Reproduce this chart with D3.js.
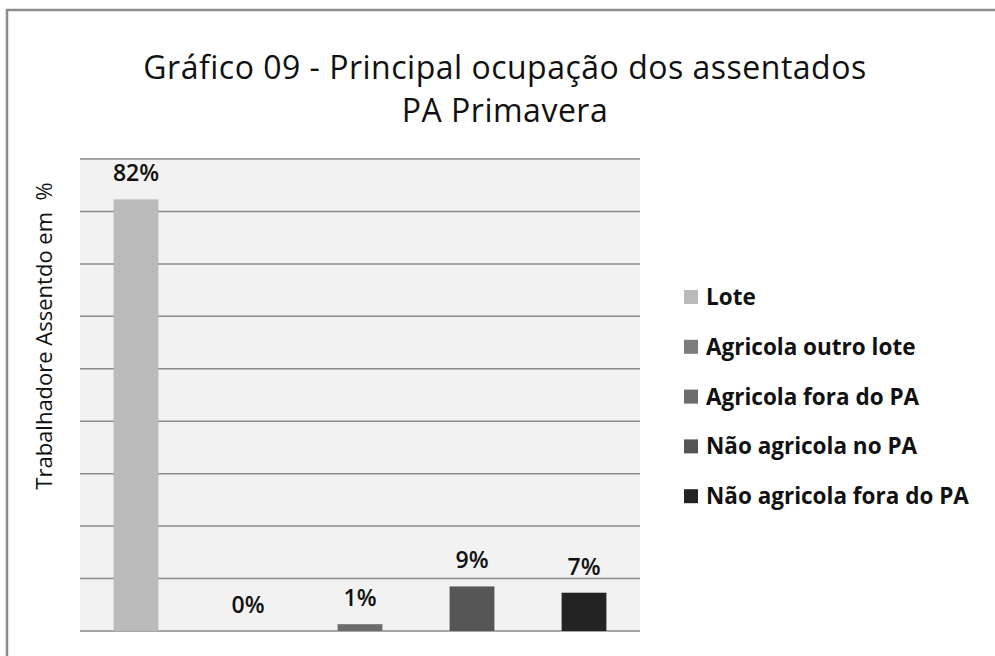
<!DOCTYPE html>
<meta charset="utf-8">
<head>
<style>
body { margin: 0; background: #fff; }
svg { display: block; font-family: "Open Sans", sans-serif; }
.grid line { stroke: #8a8a8a; stroke-width: 1.5px; }
.legend text { font-weight: 700; font-size: 22.5px; fill: #111; }
</style>
</head>
<body>
<svg></svg>
<script src="https://d3js.org/d3.v7.min.js"></script>
<script>
// data
var categories = ["Lote", "Agricola outro lote", "Agricola fora do PA", "Não agricola no PA", "Não agricola fora do PA"];
var values = [82.3, 0, 1.3, 8.5, 7.3];
var labels = ["82%", "0%", "1%", "9%", "7%"];
var colors = ["#bababa", "#7c7c7c", "#6c6c6c", "#555555", "#232323"];
var yTicks = [0, 10, 20, 30, 40, 50, 60, 70, 80, 90];

var width = 995, height = 656;
var plot = {left: 80, right: 640, top: 159, bottom: 631};

var svg = d3.select('svg')
  .attr('width', width)
  .attr('height', height);

// outer frame (runs past the picture on the right and bottom)
svg.append('rect')
  .attr('x', 7).attr('y', 10)
  .attr('width', 1100).attr('height', 800)
  .attr('fill', 'none')
  .attr('stroke', '#8c8c8c')
  .attr('stroke-width', 2.5);

var x = d3.scaleBand()
  .domain(categories)
  .range([plot.left, plot.right])
  .paddingInner(0.6)
  .paddingOuter(0.3);

var y = d3.scaleLinear()
  .domain([0, 90])
  .range([plot.bottom, plot.top]);

// plot background
svg.append('rect')
  .attr('x', plot.left).attr('y', plot.top)
  .attr('width', plot.right - plot.left)
  .attr('height', plot.bottom - plot.top)
  .attr('fill', '#f2f2f2');

svg.append('g')
  .attr('class', 'grid')
  .selectAll('line')
  .data(yTicks)
  .enter().append('line')
  .attr('x1', plot.left).attr('x2', plot.right)
  .attr('y1', function (d) { return y(d); })
  .attr('y2', function (d) { return y(d); });

svg.append('g')
  .selectAll('rect')
  .data(values)
  .enter().append('rect')
  .attr('x', function (d, i) { return x(categories[i]); })
  .attr('y', function (d) { return y(d); })
  .attr('width', x.bandwidth())
  .attr('height', function (d) { return y(0) - y(d); })
  .attr('fill', function (d, i) { return colors[i]; });

svg.append('g')
  .selectAll('text')
  .data(values)
  .enter().append('text')
  .attr('x', function (d, i) { return x(categories[i]) + x.bandwidth() / 2; })
  .attr('y', function (d) { return y(d) - 18; })
  .attr('text-anchor', 'middle')
  .attr('font-size', 23)
  .attr('font-weight', 600)
  .attr('fill', '#111')
  .text(function (d, i) { return labels[i]; });

// title, two lines
var titleLines = ['Gráfico 09 - Principal ocupação dos assentados', 'PA Primavera'];
svg.append('g')
  .selectAll('text')
  .data(titleLines)
  .enter().append('text')
  .attr('x', 505)
  .attr('y', function (d, i) { return 79 + i * 43; })
  .attr('text-anchor', 'middle')
  .attr('font-size', 32)
  .attr('font-weight', 500)
  .attr('letter-spacing', 0.5)
  .attr('fill', '#111')
  .text(function (d) { return d; });

// y axis title
svg.append('text')
  .attr('transform', 'translate(52,336) rotate(-90)')
  .attr('text-anchor', 'middle')
  .attr('font-size', 22)
  .attr('font-weight', 500)
  .attr('fill', '#111')
  .style('white-space', 'pre')
  .text('Trabalhadore Assentdo em  %');

// legend
var legend = svg.append('g')
  .attr('class', 'legend')
  .selectAll('g')
  .data(categories)
  .enter().append('g')
  .attr('transform', function (d, i) { return 'translate(684,' + (297 + i * 49.8) + ')'; });

legend.append('rect')
  .attr('x', 0).attr('y', -7)
  .attr('width', 14).attr('height', 14)
  .attr('fill', function (d, i) { return colors[i]; });

legend.append('text')
  .attr('x', 22).attr('y', 8)
  .text(function (d) { return d; });
</script>
</body>
</html>
